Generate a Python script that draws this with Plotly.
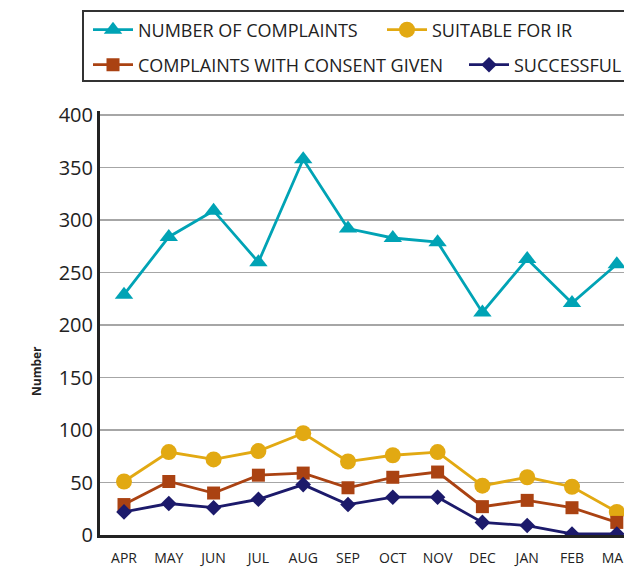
import plotly.graph_objects as go

months = ["APR", "MAY", "JUN", "JUL", "AUG", "SEP", "OCT", "NOV", "DEC", "JAN", "FEB", "MAR"]
complaints = [229, 284, 309, 260, 358, 292, 283, 279, 212, 263, 221, 258]
suitable_ir = [51, 79, 72, 80, 97, 70, 76, 79, 47, 55, 46, 22]
consent_given = [29, 51, 40, 57, 59, 45, 55, 60, 27, 33, 26, 12]
successful = [22, 30, 26, 34, 48, 29, 36, 36, 12, 9, 1, 1]
y_ticks = [0, 50, 100, 150, 200, 250, 300, 350, 400]

FONT = "Open Sans"
TEXT = "#222222"
W, H = 624, 567
ML, MR, MT, MB = 100, 0, 111, 32
PW, PH = W - ML - MR, H - MT - MB

def px_x(p):
    return (p - ML) / PW

def px_y(p):
    return (H - MB - p) / PH

series = [
    ("NUMBER OF COMPLAINTS", complaints, "#00A3B5", "triangle-up", 16, "legend"),
    ("SUITABLE FOR IR", suitable_ir, "#E2A912", "circle", 16, "legend2"),
    ("COMPLAINTS WITH CONSENT GIVEN", consent_given, "#AA4212", "square", 13, "legend3"),
    ("SUCCESSFUL IR", successful, "#1C1A6B", "diamond", 12, "legend4"),
]

fig = go.Figure()
for name, vals, col, sym, size, leg in series:
    fig.add_trace(go.Scatter(
        x=months, y=vals, name=name, mode="lines+markers",
        line=dict(color=col, width=2.8),
        marker=dict(symbol=sym, size=size, color=col),
        legend=leg, cliponaxis=True,
    ))

spacing = 44.8
x0 = -(124 - 100) / spacing
x1 = x0 + PW / spacing

leg_common = dict(orientation="h", xanchor="left", yanchor="middle", bgcolor="rgba(0,0,0,0)",
                  font=dict(family=FONT, size=18, color=TEXT), itemwidth=40, borderwidth=0,
                  itemclick=False, itemdoubleclick=False)
fig.update_layout(
    width=W, height=H,
    margin=dict(l=ML, r=MR, t=MT, b=MB, autoexpand=False),
    paper_bgcolor="white", plot_bgcolor="white",
    showlegend=True,
    legend=dict(x=px_x(88), y=px_y(30), **leg_common),
    legend2=dict(x=px_x(382), y=px_y(30), **leg_common),
    legend3=dict(x=px_x(88), y=px_y(65), **leg_common),
    legend4=dict(x=px_x(464), y=px_y(65), **leg_common),
    xaxis=dict(type="category", range=[x0, x1], showgrid=False,
               showline=True, linecolor="#222222", linewidth=3, ticks="",
               ticklabelstandoff=8,
               tickfont=dict(family=FONT, size=14, color=TEXT), fixedrange=True),
    yaxis=dict(range=[0, 404], tickvals=y_ticks, showgrid=True, gridcolor="#A6A6A6", gridwidth=1.5,
               zeroline=False, showline=True, linecolor="#222222", linewidth=3, ticks="",
               tickfont=dict(family=FONT, size=20, color=TEXT), fixedrange=True),
    shapes=[dict(type="rect", xref="paper", yref="paper", x0=px_x(83), x1=px_x(680),
                 y0=px_y(81), y1=px_y(11), line=dict(color="#333333", width=2), layer="above")],
    annotations=[dict(text="<b>Number</b>", xref="paper", yref="paper", x=px_x(36), y=px_y(371),
                      textangle=-90, showarrow=False, font=dict(family=FONT, size=12, color=TEXT),
                      xanchor="center", yanchor="middle")],
)

fig.write_html(
    "out.html",
    config={"displayModeBar": False, "staticPlot": True},
    post_script="document.documentElement.style.overflow='hidden';"
                "document.body.style.margin='0';document.body.style.overflow='hidden';",
)
